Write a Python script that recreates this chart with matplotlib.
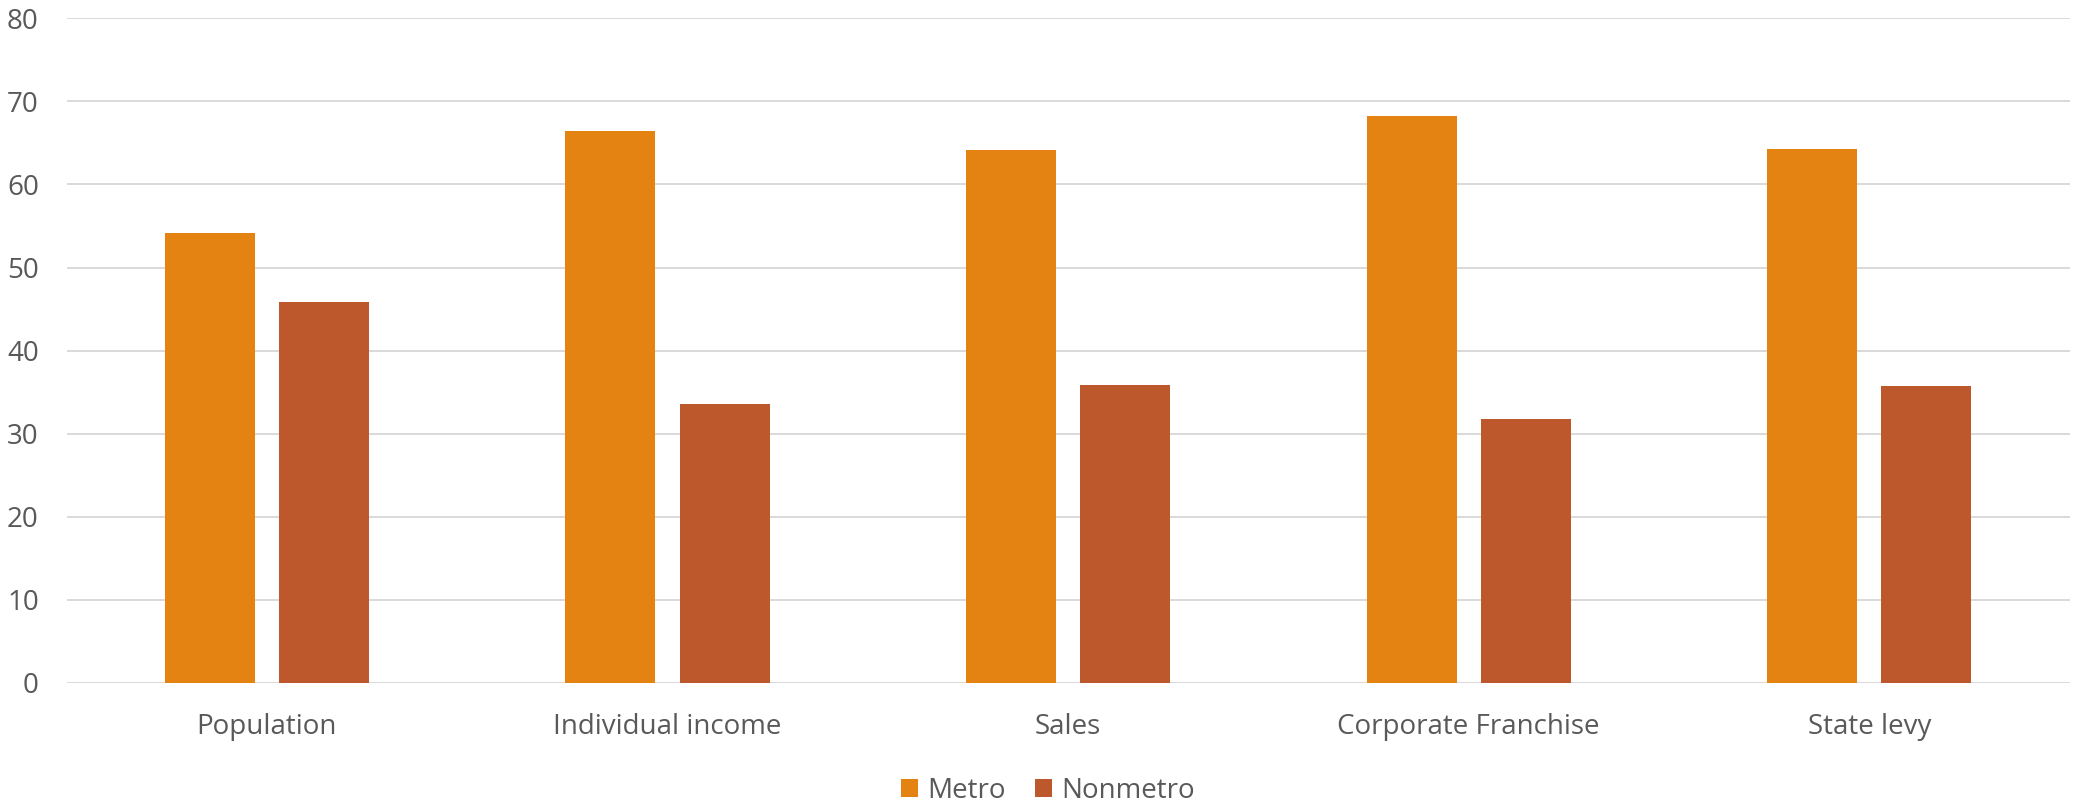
import matplotlib.pyplot as plt
import numpy as np

categories = ['Population', 'Individual income', 'Sales', 'Corporate Franchise', 'State levy']
metro = [54.2, 66.4, 64.1, 68.3, 64.3]
nonmetro = [45.8, 33.6, 35.9, 31.7, 35.7]
yticks = [0, 10, 20, 30, 40, 50, 60, 70, 80]

plt.rcParams['font.family'] = ['Open Sans', 'DejaVu Sans']
text_color = '#595959'
grid_color = '#D9D9D9'

fig = plt.figure(figsize=(20.73, 8.01), dpi=100)
ax = fig.add_axes([0.0321, 0.1477, 0.9663, 0.8293])

x = np.arange(len(categories))
w = 0.2247
off = 0.1424
ax.bar(x - off, metro, w, color='#E48312', label='Metro', zorder=3)
ax.bar(x + off, nonmetro, w, color='#BD582C', label='Nonmetro', zorder=3)

ax.set_xlim(-0.5, len(categories) - 0.5)
ax.set_ylim(0, 80)
ax.set_yticks(yticks)
ax.set_xticks(x)
ax.set_xticklabels(categories)
ax.yaxis.grid(True, color=grid_color, linewidth=1.4, zorder=0)
ax.set_axisbelow(True)
for s in ax.spines.values():
    s.set_visible(False)
ax.tick_params(axis='both', length=0, labelsize=20, labelcolor=text_color)
ax.tick_params(axis='y', pad=20)
ax.tick_params(axis='x', pad=22)

leg = fig.legend(loc='lower center', bbox_to_anchor=(0.5055, -0.036), ncol=2, frameon=False,
                 fontsize=20, handlelength=0.63, handleheight=0.63,
                 handletextpad=0.32, columnspacing=1.05)
for t in leg.get_texts():
    t.set_color(text_color)

plt.savefig('out.png', dpi=100)
